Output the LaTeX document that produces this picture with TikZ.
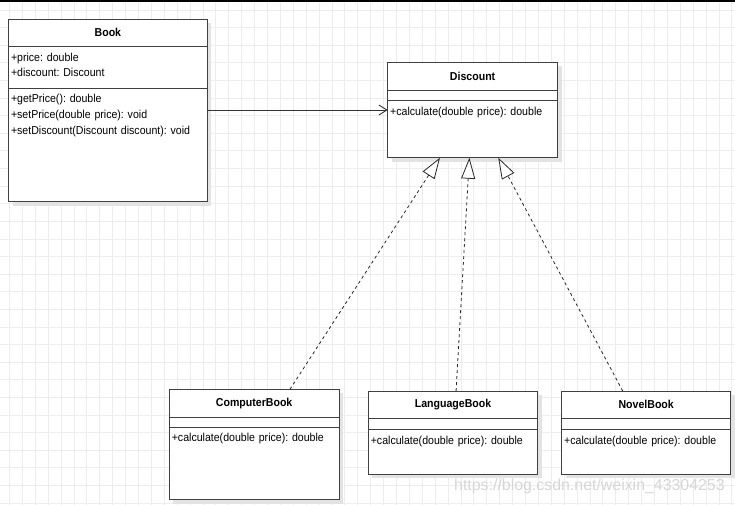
\documentclass[tikz,border=0pt]{standalone}
\usepackage{fontspec}
\setmainfont{Liberation Sans}[FakeStretch=0.92]
\newfontfamily\markfont{Liberation Sans}
\frenchspacing
\usetikzlibrary{positioning}
\usetikzlibrary{arrows.meta}
\usetikzlibrary{calc}
\usetikzlibrary{shadows}

\begin{document}
\begin{tikzpicture}[x=1pt,y=-1pt,
	box/.style={rectangle,draw=black!75,fill=white,line width=0.9pt,outer sep=0pt,drop
	shadow={shadow xshift=4pt,shadow yshift=-4pt,fill=black!11,opacity=1}},
	cname/.style={box,minimum width=#1,minimum height=27.7pt,inner sep=0pt,font=\fontsize{11.5}{13}\selectfont\bfseries},
	cattr/.style={box,text width=#1-5pt,inner xsep=2.5pt,inner ysep=5pt,text height=9.5pt,align=left,font=\fontsize{11.5}{15.7}\selectfont},
	noattr/.style={box,minimum width=#1,minimum height=10.7pt,inner sep=0pt},
	cops/.style={cattr=#1},
	gridline/.style={draw=black!7,line width=0.6pt},
	assoc/.style={-{Straight Barb[length=8pt,width=10pt]},draw=black!80,line width=0.9pt},
	realize/.style={-{Triangle[length=21pt,width=14pt,fill=white]},draw=black!85,line width=0.8pt,dash pattern=on 3pt off 3pt}]
	\useasboundingbox (0,0) rectangle (735,505);
	\foreach \x in {0,...,56}
		\draw[gridline] ({9.3+12.9*\x},0) -- ({9.3+12.9*\x},505);
	\foreach \y in {0,...,28}
		\draw[gridline] (0,{10+17.6*\y}) -- (735,{10+17.6*\y});
	\fill[black] (0,0) rectangle (735,1.8);

	\node[cname=198.8pt,anchor=north west] (book) at (8.5,19) {Book};
	\node[cattr=198.8pt,text depth=22.1pt] (book-attr) [below=0pt of book] {+price: double\\+discount: Discount};
	\node[cops=198.8pt,text depth=93.9pt] (book-ops) [below=0pt of book-attr] {+getPrice(): double\\+setPrice(double price): void\\+setDiscount(Discount discount): void};

	\node[cname=169.8pt,anchor=north west] (disc) at (387.7,62.3) {Discount};
	\node[noattr=169.8pt] (disc-attr) [below=0pt of disc] {};
	\node[cops=169.8pt,text depth=37.5pt] (disc-ops) [below=0pt of disc-attr] {+calculate(double price): double};

	\node[cname=169.7pt,anchor=north west] (comp) at (169.3,389.3) {ComputerBook};
	\node[noattr=169.7pt,minimum height=10.4pt] (comp-attr) [below=0pt of comp] {};
	\node[cops=169.7pt,text depth=52.8pt] (comp-ops) [below=0pt of comp-attr] {+calculate(double price): double};

	\node[cname=169.4pt,anchor=north west] (lang) at (368.3,391) {LanguageBook};
	\node[noattr=169.4pt,minimum height=11pt] (lang-attr) [below=0pt of lang] {};
	\node[cops=169.4pt,text depth=25.2pt] (lang-ops) [below=0pt of lang-attr] {+calculate(double price): double};

	\node[cname=169pt,anchor=north west] (novel) at (561.7,391) {NovelBook};
	\node[noattr=169pt,minimum height=11pt] (novel-attr) [below=0pt of novel] {};
	\node[cops=169pt,text depth=25.2pt] (novel-ops) [below=0pt of novel-attr] {+calculate(double price): double};

	\node[text=black!16,font=\markfont\fontsize{15.9}{17}\selectfont,anchor=west,inner sep=0pt] (mark) at (454,486) {https://blog.csdn.net/weixin\_43304253};

	\coordinate (link) at ($(book-ops.north east)+(0,21.7)$);
	\draw[assoc] (link) -- (link -| disc-ops.west);

	\draw[realize] ($(comp.north west)!.711!(comp.north east)$) -- ($(disc-ops.south west)!.308!(disc-ops.south east)$);
	\draw[realize] ($(lang.north west)!.518!(lang.north east)$) -- ($(disc-ops.south west)!.481!(disc-ops.south east)$);
	\draw[realize] ($(novel.north west)!.361!(novel.north east)$) -- ($(disc-ops.south west)!.651!(disc-ops.south east)$);
\end{tikzpicture}
\end{document}
